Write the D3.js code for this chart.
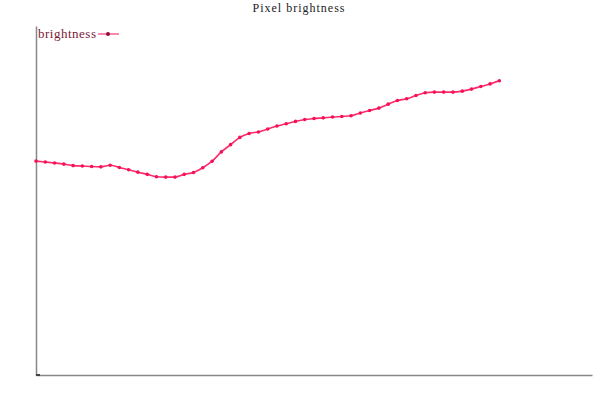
<!DOCTYPE html>
<html><head><meta charset="utf-8">
<script src="https://cdn.jsdelivr.net/npm/d3@7"></script>
<style>body{margin:0;background:#fff}svg{display:block}</style>
</head><body>
<svg id="c" width="600" height="400"></svg>
<script>
const title = "Pixel brightness";
const seriesName = "brightness";
const indices = d3.range(51);
const brightness = [
 156.3,155.6,154.9,154.1,153.0,152.7,152.3,152.1,153.3,151.6,
 150.0,148.2,146.6,144.9,144.6,144.6,146.6,148.0,151.4,156.2,
 163.0,168.3,173.6,176.5,177.6,179.7,181.9,183.6,185.3,186.7,
 187.4,187.9,188.5,188.9,189.4,191.4,193.3,195.0,197.9,200.6,
 201.8,204.2,206.2,206.7,206.7,206.7,207.4,208.9,210.8,212.7,215.0
];

const svg = d3.select("#c");
const m = {l:36, r:8, t:26, b:26};
const W = 600, H = 400;
const x = d3.scaleLinear().domain([0, 60]).range([m.l, W - m.r]);
const y = d3.scaleLinear().domain([0, 255]).range([H - m.b + 1, m.t]);

svg.append("text").attr("x", 299).attr("y", 12).attr("text-anchor","middle")
  .attr("font-family","'Liberation Serif','DejaVu Serif',serif").attr("font-size",12)
  .attr("letter-spacing","1px").attr("fill","#222").text(title);

// axes
svg.append("g").attr("transform",`translate(0,${y(0)})`)
  .call(d3.axisBottom(x).ticks(0).tickSize(0))
  .call(g=>g.select(".domain").attr("stroke","#888").attr("stroke-width",1.5));
svg.append("g").attr("transform",`translate(${x(0)},0)`)
  .call(d3.axisLeft(y).ticks(0).tickSize(0))
  .call(g=>g.select(".domain").attr("stroke","#888").attr("stroke-width",1.5));
svg.append("line").attr("x1",x(0)).attr("x2",x(0)+4).attr("y1",y(0)).attr("y2",y(0))
  .attr("stroke","#444").attr("stroke-width",2);

const line = d3.line().x((d,i)=>x(indices[i])).y(d=>y(d)).curve(d3.curveMonotoneX);
svg.append("path").datum(brightness).attr("d",line).attr("fill","none")
  .attr("stroke","#ff2a68").attr("stroke-width",1.6);
svg.append("g").selectAll("circle").data(brightness).join("circle")
  .attr("cx",(d,i)=>x(indices[i])).attr("cy",d=>y(d)).attr("r",1.8).attr("fill","#f5105a");

// legend
const lg = svg.append("g");
lg.append("text").attr("x",38).attr("y",38).attr("font-family","'Liberation Serif','DejaVu Serif',serif")
  .attr("font-size",13).attr("letter-spacing","0.5px").attr("fill","#7a1838").text(seriesName);
lg.append("line").attr("x1",98).attr("x2",119).attr("y1",34).attr("y2",34)
  .attr("stroke","#ff6a94").attr("stroke-width",1.6);
lg.append("circle").attr("cx",108).attr("cy",34).attr("r",2).attr("fill","#8b1040");
</script>
</body></html>
